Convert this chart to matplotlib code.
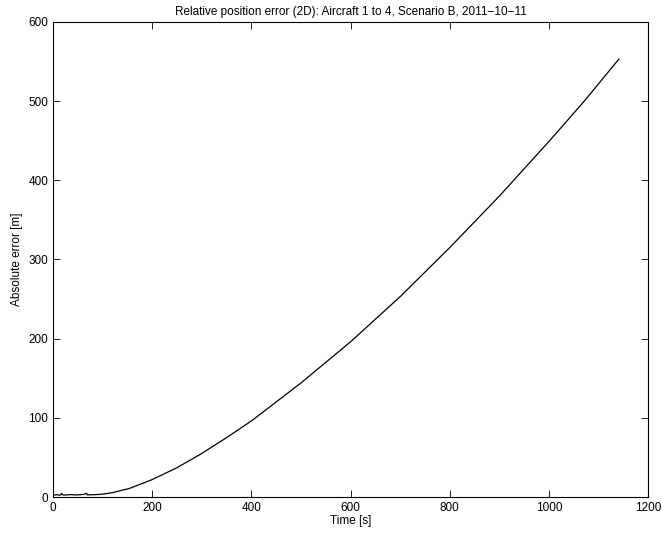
import matplotlib
matplotlib.use('Agg')
import matplotlib.pyplot as plt

plt.rcParams['font.family'] = ['Liberation Sans', 'DejaVu Sans']

# time [s] and absolute 2D position error [m]
t = [2, 8, 14, 18, 19, 25, 35, 45, 55, 62, 68, 69, 75, 85, 100, 120, 155, 200,
     250, 300, 350, 400, 500, 600, 700, 800, 900, 1000, 1070, 1141]
err = [2.5, 3.0, 2.2, 4.5, 2.8, 2.4, 3.1, 2.6, 2.9, 3.3, 4.8, 2.7, 2.8, 3.0,
       3.6, 5.5, 11, 22, 37, 55, 75, 96, 144, 196, 253, 315, 380,
       449, 499, 553]

fig = plt.figure(figsize=(6.62, 5.35), dpi=100)
ax = fig.add_axes([0.080, 0.071, 0.899, 0.888])
ax.plot(t, err, color='black', linewidth=0.9)

ax.set_xlim(0, 1200)
ax.set_ylim(0, 600)
ax.set_xticks(range(0, 1201, 200))
ax.set_yticks(range(0, 601, 100))
ax.tick_params(direction='in', top=True, right=True, labelsize=8.5, length=5, width=0.6)
for s in ax.spines.values():
    s.set_linewidth(0.8)

ax.set_xlabel('Time [s]', fontsize=8.5, labelpad=1)
ax.set_ylabel('Absolute error [m]', fontsize=8.5, labelpad=4)
ax.set_title('Relative position error (2D): Aircraft 1 to 4, Scenario B, 2011\u221210\u221211',
             fontsize=8.5, pad=5)

fig.savefig('out.png', dpi=100)
plt.close(fig)
